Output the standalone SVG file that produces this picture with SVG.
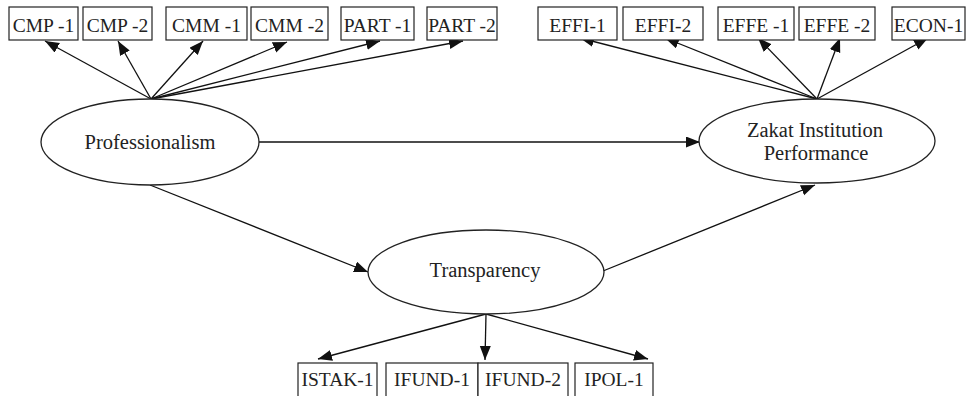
<svg xmlns="http://www.w3.org/2000/svg" width="972" height="396" viewBox="0 0 972 396">
<defs>
<marker id="ah" markerUnits="userSpaceOnUse" markerWidth="15" markerHeight="12" refX="14" refY="5.5" orient="auto">
<path d="M0,0 L14,5.5 L0,11 z" fill="#111"/>
</marker>
<style>
.box{fill:#fff;stroke:#222;stroke-width:1.2}
.ell{fill:#fff;stroke:#222;stroke-width:1.3}
.bt{font-family:"Liberation Serif",serif;font-size:19.5px;fill:#222;text-anchor:middle}
.et{font-family:"Liberation Serif",serif;font-size:20.5px;fill:#222;text-anchor:middle}
.con{stroke:#111;stroke-width:1.3;fill:none;marker-end:url(#ah)}
</style>
</defs>
<rect width="972" height="396" fill="#fff"/>
<g id="connectors">
<line class="con" x1="151" y1="99" x2="45" y2="41"/>
<line class="con" x1="151" y1="99" x2="118" y2="41"/>
<line class="con" x1="151" y1="99" x2="203" y2="41"/>
<line class="con" x1="151" y1="99" x2="287" y2="42"/>
<line class="con" x1="151" y1="99" x2="380" y2="41"/>
<line class="con" x1="151" y1="99" x2="463" y2="41"/>
<line class="con" x1="817" y1="99" x2="580" y2="38"/>
<line class="con" x1="817" y1="99" x2="665" y2="38"/>
<line class="con" x1="817" y1="99" x2="758" y2="38"/>
<line class="con" x1="817" y1="99" x2="840" y2="38"/>
<line class="con" x1="817" y1="99" x2="928" y2="38"/>
<line class="con" x1="259" y1="142" x2="700" y2="142"/>
<line class="con" x1="150" y1="185" x2="368" y2="272"/>
<line class="con" x1="603" y1="271" x2="815" y2="185"/>
<line class="con" x1="486" y1="314" x2="318" y2="359"/>
<line class="con" x1="486" y1="314" x2="485" y2="360"/>
<line class="con" x1="486" y1="314" x2="648" y2="359"/>
</g>
<g id="cmp1"><rect class="box" x="9" y="7" width="69" height="33"/><text class="bt" x="43.5" y="32">CMP -1</text></g>
<g id="cmp2"><rect class="box" x="83" y="7" width="69" height="33"/><text class="bt" x="117.5" y="32">CMP -2</text></g>
<g id="cmm1"><rect class="box" x="166" y="7" width="81" height="33"/><text class="bt" x="206.5" y="32">CMM -1</text></g>
<g id="cmm2"><rect class="box" x="251" y="7" width="77" height="33"/><text class="bt" x="289.5" y="32">CMM -2</text></g>
<g id="part1"><rect class="box" x="341" y="7" width="73" height="33"/><text class="bt" x="377.5" y="32">PART -1</text></g>
<g id="part2"><rect class="box" x="427" y="7" width="70" height="33"/><text class="bt" x="462" y="32">PART -2</text></g>
<g id="effi1"><rect class="box" x="538" y="7" width="79" height="33"/><text class="bt" x="577.5" y="32">EFFI-1</text></g>
<g id="effi2"><rect class="box" x="623" y="7" width="80" height="33"/><text class="bt" x="663" y="32">EFFI-2</text></g>
<g id="effe1"><rect class="box" x="718" y="7" width="76" height="33"/><text class="bt" x="756" y="32">EFFE -1</text></g>
<g id="effe2"><rect class="box" x="799" y="7" width="76" height="33"/><text class="bt" x="837" y="32">EFFE -2</text></g>
<g id="econ1"><rect class="box" x="892" y="7" width="73" height="33"/><text class="bt" x="928.5" y="32">ECON-1</text></g>
<g id="professionalism"><ellipse class="ell" cx="150" cy="142" rx="109" ry="43"/><text class="et" x="150" y="149">Professionalism</text></g>
<g id="zakat"><ellipse class="ell" cx="817" cy="141" rx="118" ry="42"/><text class="et" x="815" y="137">Zakat Institution</text><text class="et" x="816" y="160">Performance</text></g>
<g id="transparency"><ellipse class="ell" cx="486" cy="272" rx="118" ry="42"/><text class="et" x="485" y="277">Transparency</text></g>
<g id="istak1"><rect class="box" x="298" y="363" width="79" height="40"/><text class="bt" x="337.5" y="386">ISTAK-1</text></g>
<g id="ifund1"><rect class="box" x="386" y="363" width="92" height="40"/><text class="bt" x="432" y="386">IFUND-1</text></g>
<g id="ifund2"><rect class="box" x="478" y="363" width="90" height="40"/><text class="bt" x="523" y="386">IFUND-2</text></g>
<g id="ipol1"><rect class="box" x="575" y="363" width="78" height="40"/><text class="bt" x="614" y="386">IPOL-1</text></g>
</svg>
